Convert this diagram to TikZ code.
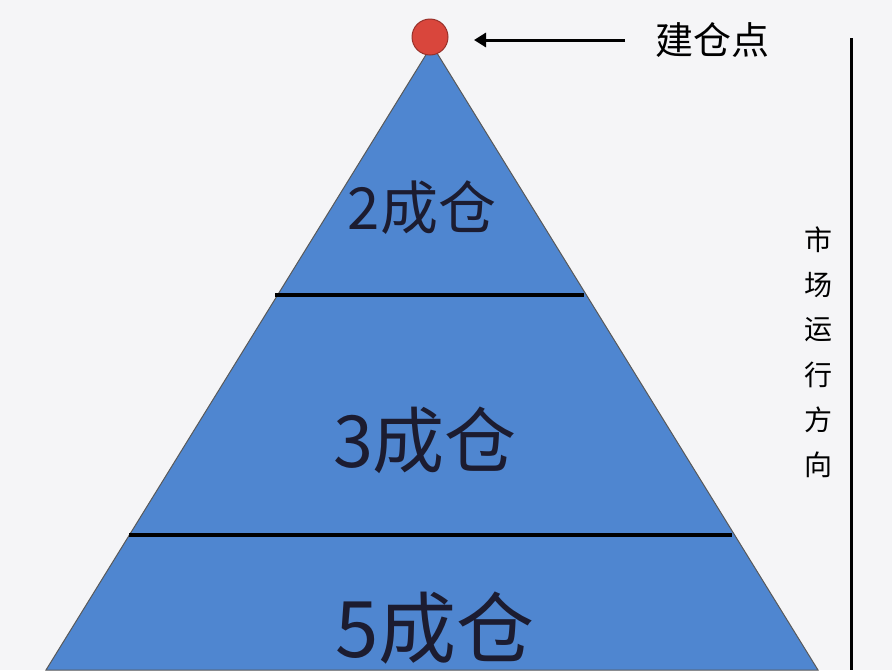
\documentclass[tikz,border=0pt]{standalone}
\usepackage{fontspec}
\setmainfont{Noto Sans CJK SC}
\usetikzlibrary{arrows.meta}
\definecolor{bg}{HTML}{F5F5F7}
\definecolor{pyr}{HTML}{4F86D0}
\definecolor{dot}{HTML}{D9463C}
\definecolor{ink}{HTML}{1C1C30}
\tikzset{lvl/.style={text=ink,inner sep=0pt},
 sep/.style={line width=3.5pt,black},
 side/.style={text=black,inner sep=0pt}}
\begin{document}
\begin{tikzpicture}[x=1pt,y=-1pt]
\fill[bg] (0,0) rectangle (892,670);
\useasboundingbox (0,0) rectangle (892,670);
\begin{scope}
\clip (0,0) rectangle (892,670);
\fill[pyr,draw=gray!70!black,line width=1pt] (432,45) -- (46,670) -- (818,670) -- cycle;
\end{scope}
\coordinate (l1) at (275,295); \coordinate (r1) at (584,295);
\coordinate (l2) at (129,535); \coordinate (r2) at (732,535);
\draw[sep] (l1) -- (r1);
\draw[sep] (l2) -- (r2);
\node[circle,fill=dot,draw=dot!70!black,line width=1pt,minimum size=36pt,inner sep=0pt] (top) at (430,37) {};
\node[inner sep=0pt,font=\fontsize{38}{38}\selectfont] (lab) at (712,40) {建仓点};
\coordinate (as) at (625,40);
\draw[line width=3pt,-{Triangle[length=12pt,width=14pt]}] (as) -- (474,40);
\coordinate (v1) at (851,38); \coordinate (v2) at (851,670);
\draw[line width=3pt] (v1) -- (v2);
\foreach \c [count=\i] in {市,场,运,行,方,向}
  \node[side,font=\fontsize{28}{28}\selectfont] (d\i) at (818,{240+45*(\i-1)}) {\c};
\node[lvl,font=\fontsize{58}{58}\selectfont] (t2) at (422,208) {2成仓};
\node[lvl,font=\fontsize{72}{72}\selectfont] (t3) at (425,440) {3成仓};
\node[lvl,font=\fontsize{78}{78}\selectfont] (t5) at (435,628) {5成仓};
\end{tikzpicture}
\end{document}
